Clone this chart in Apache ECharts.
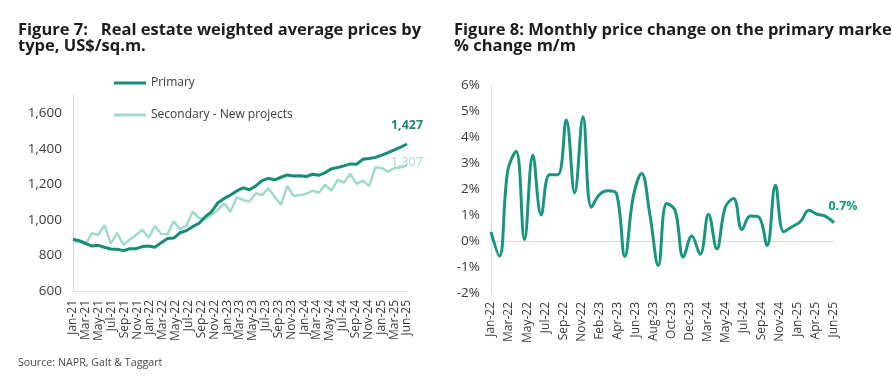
<!DOCTYPE html>
<html><head><meta charset="utf-8">
<script src="https://cdn.jsdelivr.net/npm/echarts@6/dist/echarts.min.js"></script>
<style>html,body{margin:0;padding:0;background:#fff}#c{width:892px;height:385px}</style>
</head><body><div id="c"></div>
<script>
const leftMonths = ['Jan-21','Feb-21','Mar-21','Apr-21','May-21','Jun-21','Jul-21','Aug-21','Sep-21','Oct-21','Nov-21','Dec-21',
  'Jan-22','Feb-22','Mar-22','Apr-22','May-22','Jun-22','Jul-22','Aug-22','Sep-22','Oct-22','Nov-22','Dec-22',
  'Jan-23','Feb-23','Mar-23','Apr-23','May-23','Jun-23','Jul-23','Aug-23','Sep-23','Oct-23','Nov-23','Dec-23',
  'Jan-24','Feb-24','Mar-24','Apr-24','May-24','Jun-24','Jul-24','Aug-24','Sep-24','Oct-24','Nov-24','Dec-24',
  'Jan-25','Feb-25','Mar-25','Apr-25','May-25','Jun-25'];
const leftTickLabels = ['Jan-21','Mar-21','May-21','Jul-21','Sep-21','Nov-21','Jan-22','Mar-22','May-22','Jul-22','Sep-22','Nov-22',
  'Jan-23','Mar-23','May-23','Jul-23','Sep-23','Nov-23','Jan-24','Mar-24','May-24','Jul-24','Sep-24','Nov-24','Jan-25','Mar-25','Jun-25'];
const primaryPrices = [891,883,868,853,857,846,836,835,827,838,838,850,853,846,872,896,898,928,940,962,
  981,1018,1047,1097,1121,1140,1163,1180,1170,1191,1221,1234,1225,1240,1253,1247,1249,1244,1257,1251,
  1266,1287,1295,1304,1315,1313,1341,1345,1352,1365,1379,1394,1410,1427];
const secondaryPrices = [880,878,862,925,915,971,868,928,859,890,915,945,900,965,921,920,993,948,968,1046,
  1012,1003,1030,1056,1093,1047,1127,1112,1103,1150,1140,1178,1131,1084,1191,1135,1140,1146,1165,1153,
  1197,1165,1225,1210,1259,1203,1221,1191,1296,1291,1272,1291,1296,1307];
const leftYTicks = {min: 600, max: 1700, interval: 200};

const rightMonths = ['Jan-22','Feb-22','Mar-22','Apr-22','May-22','Jun-22','Jul-22','Aug-22','Sep-22','Oct-22','Nov-22','Dec-22',
  'Jan-23','Feb-23','Mar-23','Apr-23','May-23','Jun-23','Jul-23','Aug-23','Sep-23','Oct-23','Nov-23','Dec-23',
  'Jan-24','Feb-24','Mar-24','Apr-24','May-24','Jun-24','Jul-24','Aug-24','Sep-24','Oct-24','Nov-24','Dec-24',
  'Jan-25','Feb-25','Mar-25','Apr-25','May-25','Jun-25'];
const rightTickLabels = ['Jan-22','Mar-22','May-22','Jul-22','Sep-22','Nov-22','Feb-23','Apr-23','Jun-23','Aug-23',
  'Oct-23','Dec-23','Mar-24','May-24','Jul-24','Sep-24','Nov-24','Jan-25','Apr-25','Jun-25'];
const primaryChange = [0.35,-0.58,2.7,3.45,0.05,3.3,1.0,2.55,2.55,4.65,
  1.85,4.78,1.3,1.8,1.93,1.82,-0.59,1.7,2.6,1.0,
  -0.94,1.44,1.18,-0.62,0.19,-0.51,1.03,-0.3,1.3,1.63,
  0.44,0.96,0.92,-0.17,2.14,0.36,0.55,0.75,1.18,1.03,
  0.95,0.7];
const rightYTicks = {min: -2, max: 6, interval: 1};

const FONT = '"Open Sans"';
const DARK = '#188b75';
const LIGHT = '#9fdace';
const TEAL = '#17957d';
const TXT = '#3a3a3a';
const AXIS = '#d9d9d9';

const chart = echarts.init(document.getElementById('c'), null, {renderer: 'canvas'});
const lastLabel = (n, fmt) => p => p.dataIndex === n - 1 ? fmt(p.value) : '';
const titleStyle = {fontFamily: FONT, fontSize: 16.5, fontWeight: 'bold', color: '#1c1c1c', lineHeight: 16};

chart.setOption({
  animation: false,
  textStyle: {fontFamily: FONT},
  title: [
    {text: 'Figure 7:   Real estate weighted average prices by\ntype, US$/sq.m.', left: 18, top: 22, padding: 0,
     textStyle: titleStyle},
    {text: 'Figure 8: Monthly price change on the primary market,\n% change m/m', left: 454, top: 22, padding: 0,
     textStyle: titleStyle}
  ],
  legend: {
    orient: 'vertical', left: 114, top: 77, padding: 0, itemGap: 20, itemWidth: 32, itemHeight: 3, icon: 'rect',
    textStyle: {fontFamily: FONT, fontSize: 12, color: TXT},
    data: ['Primary', 'Secondary - New projects']
  },
  graphic: [{type: 'text', left: 18, top: 357,
    style: {text: 'Source: NAPR, Galt & Taggart', font: '10.7px ' + FONT, fill: '#4a4a4a'}}],
  grid: [
    {left: 73, top: 95.5, width: 334, height: 195.5},
    {left: 491, top: 85, width: 343, height: 208}
  ],
  xAxis: [
    {gridIndex: 0, type: 'category', data: leftMonths, boundaryGap: false, position: 'bottom',
     axisLine: {onZero: false, lineStyle: {color: AXIS}}, axisTick: {show: false}, axisLabel: {show: false}},
    {gridIndex: 0, type: 'category', data: leftTickLabels, boundaryGap: false, position: 'bottom',
     axisLine: {show: false, onZero: false}, axisTick: {show: false},
     axisLabel: {rotate: 90, interval: 0, margin: 9, fontSize: 12, color: TXT, fontFamily: FONT}},
    {gridIndex: 1, type: 'category', data: rightMonths, boundaryGap: false, position: 'bottom',
     axisLine: {onZero: true, lineStyle: {color: AXIS}}, axisTick: {show: false}, axisLabel: {show: false}},
    {gridIndex: 1, type: 'category', data: rightTickLabels, boundaryGap: false, position: 'bottom',
     axisLine: {show: false, onZero: false}, axisTick: {show: false},
     axisLabel: {rotate: 90, interval: 0, margin: 9, fontSize: 12, color: TXT, fontFamily: FONT}}
  ],
  yAxis: [
    {gridIndex: 0, type: 'value', min: leftYTicks.min, max: leftYTicks.max, interval: leftYTicks.interval,
     axisLine: {show: true, lineStyle: {color: AXIS}}, axisTick: {show: false}, splitLine: {show: false},
     axisLabel: {margin: 11, fontSize: 13.5, color: TXT, fontFamily: FONT, showMaxLabel: false,
       formatter: v => v.toLocaleString('en-US')}},
    {gridIndex: 1, type: 'value', min: rightYTicks.min, max: rightYTicks.max, interval: rightYTicks.interval,
     axisLine: {show: true, lineStyle: {color: AXIS}}, axisTick: {show: false}, splitLine: {show: false},
     axisLabel: {margin: 11, fontSize: 13.5, color: TXT, fontFamily: FONT, formatter: '{value}%'}}
  ],
  series: [
    {name: 'Secondary - New projects', type: 'line', xAxisIndex: 0, yAxisIndex: 0, data: secondaryPrices,
     showSymbol: true, showAllSymbol: true, symbol: 'circle', symbolSize: 0, z: 2,
     lineStyle: {color: LIGHT, width: 2.5}, itemStyle: {color: LIGHT},
     label: {show: true, position: 'inside', offset: [0, -3], color: LIGHT, fontSize: 12.5, fontFamily: FONT,
       formatter: lastLabel(secondaryPrices.length, v => v.toLocaleString('en-US'))}},
    {name: 'Primary', type: 'line', xAxisIndex: 0, yAxisIndex: 0, data: primaryPrices,
     showSymbol: true, showAllSymbol: true, symbol: 'circle', symbolSize: 0, z: 3,
     lineStyle: {color: DARK, width: 3}, itemStyle: {color: DARK},
     label: {show: true, position: 'top', distance: 12, color: DARK, fontSize: 12.5, fontWeight: 'bold', fontFamily: FONT,
       formatter: lastLabel(primaryPrices.length, v => v.toLocaleString('en-US'))}},
    {name: 'm/m', type: 'line', xAxisIndex: 2, yAxisIndex: 1, data: primaryChange,
     smooth: 0.4, showSymbol: true, showAllSymbol: true, symbol: 'circle', symbolSize: 0,
     lineStyle: {color: TEAL, width: 3}, itemStyle: {color: TEAL},
     label: {show: true, position: 'top', distance: 6, offset: [9, -4], color: TEAL, fontSize: 12.5, fontWeight: 'bold', fontFamily: FONT,
       formatter: lastLabel(primaryChange.length, v => v.toFixed(1) + '%')}}
  ]
});
</script></body></html>
